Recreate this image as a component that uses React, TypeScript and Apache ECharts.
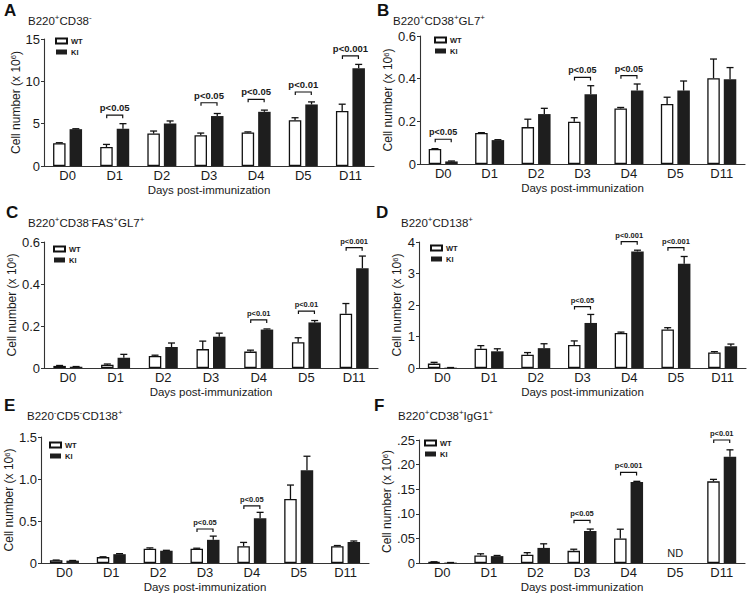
import React, { useEffect, useRef } from 'react';
import * as echarts from 'echarts';

// ---------- DATA ----------
const categories = ['D0', 'D1', 'D2', 'D3', 'D4', 'D5', 'D11'];
const seriesNames = ['WT', 'KI'];

// Panel A: B220+CD38-
const aWT = [2.7, 2.25, 3.83, 3.64, 3.95, 5.4, 6.5];
const aWTErr = [0.05, 0.3, 0.3, 0.25, 0.08, 0.3, 0.8];
const aKI = [4.35, 4.4, 5.02, 5.9, 6.4, 7.27, 11.55];
const aKIErr = [0.05, 0.6, 0.3, 0.3, 0.2, 0.3, 0.45];
const aSigCats = [1, 3, 4, 5, 6];
const aSigVals = [6.0, 7.47, 7.87, 8.74, 13.0];
const aSigLabels = ['p<0.05', 'p<0.05', 'p<0.05', 'p<0.01', 'p<0.001'];

// Panel B: B220+CD38+GL7+
const bWT = [0.07, 0.145, 0.173, 0.198, 0.26, 0.281, 0.402];
const bWTErr = [0.002, 0.002, 0.037, 0.019, 0.005, 0.032, 0.09];
const bKI = [0.012, 0.112, 0.234, 0.327, 0.345, 0.344, 0.397];
const bKIErr = [0.002, 0.002, 0.027, 0.04, 0.03, 0.045, 0.055];
const bSigCats = [0, 3, 4];
const bSigVals = [0.116, 0.406, 0.414];
const bSigLabels = ['p<0.05', 'p<0.05', 'p<0.05'];

// Panel C: B220+CD38-FAS+GL7+
const cWT = [0.01, 0.016, 0.057, 0.09, 0.078, 0.123, 0.258];
const cWTErr = [0.002, 0.003, 0.004, 0.038, 0.007, 0.021, 0.049];
const cKI = [0.006, 0.049, 0.1, 0.149, 0.183, 0.217, 0.475];
const cKIErr = [0.001, 0.016, 0.019, 0.017, 0.003, 0.009, 0.058];
const cSigCats = [4, 5, 6];
const cSigVals = [0.229, 0.271, 0.573];
const cSigLabels = ['p<0.01', 'p<0.01', 'p<0.001'];

// Panel D: B220+CD138+
const dWT = [0.14, 0.61, 0.42, 0.73, 1.11, 1.22, 0.49];
const dWTErr = [0.04, 0.1, 0.07, 0.13, 0.03, 0.06, 0.03];
const dKI = [0.01, 0.53, 0.63, 1.43, 3.7, 3.31, 0.69];
const dKIErr = [0.005, 0.08, 0.14, 0.27, 0.04, 0.23, 0.07];
const dSigCats = [3, 4, 5];
const dSigVals = [1.95, 4.01, 3.82];
const dSigLabels = ['p<0.05', 'p<0.001', 'p<0.001'];

// Panel E: B220-CD5-CD138+
const eWT = [0.032, 0.07, 0.17, 0.17, 0.2, 0.762, 0.2];
const eWTErr = [0.003, 0.004, 0.01, 0.006, 0.045, 0.166, 0.008];
const eKI = [0.028, 0.105, 0.146, 0.276, 0.533, 1.105, 0.25];
const eKIErr = [0.002, 0.006, 0.005, 0.044, 0.07, 0.166, 0.012];
const eSigCats = [3, 4];
const eSigVals = [0.405, 0.68];
const eSigLabels = ['p<0.05', 'p<0.05'];

// Panel F: B220+CD38+IgG1+
const fWT = [0.002, 0.0153, 0.0167, 0.0247, 0.05, null, 0.166];
const fWTErr = [0.0005, 0.0034, 0.0043, 0.0033, 0.0187, null, 0.004];
const fKI = [0.0008, 0.014, 0.0307, 0.065, 0.1647, null, 0.216];
const fKIErr = [0.0002, 0.0013, 0.0083, 0.004, 0.0013, null, 0.014];
const fSigCats = [3, 4, 6];
const fSigVals = [0.0867, 0.184, 0.25];
const fSigLabels = ['p<0.05', 'p<0.001', 'p<0.01'];
const fNoteCats = [5];
const fNoteVals = [0.02];
const fNoteLabels = ['ND'];

// Axis ranges
const yMaxes = [15, 0.6, 0.6, 4, 1.5, 0.25];
const yIntervals = [5, 0.2, 0.2, 1, 0.5, 0.05];

const panelLetters = ['A', 'B', 'C', 'D', 'E', 'F'];
const panelTitles = [
  '{n|B220}{s|+}{n|CD38}{s|-}',
  '{n|B220}{s|+}{n|CD38}{s|+}{n|GL7}{s|+}',
  '{n|B220}{s|+}{n|CD38}{s|-}{n|FAS}{s|+}{n|GL7}{s|+}',
  '{n|B220}{s|+}{n|CD138}{s|+}',
  '{n|B220}{s|-}{n|CD5}{s|-}{n|CD138}{s|+}',
  '{n|B220}{s|+}{n|CD38}{s|+}{n|IgG1}{s|+}',
];

const panels = [
  { wt: aWT, wtErr: aWTErr, ki: aKI, kiErr: aKIErr, sigCats: aSigCats, sigVals: aSigVals, sigLabels: aSigLabels },
  { wt: bWT, wtErr: bWTErr, ki: bKI, kiErr: bKIErr, sigCats: bSigCats, sigVals: bSigVals, sigLabels: bSigLabels },
  { wt: cWT, wtErr: cWTErr, ki: cKI, kiErr: cKIErr, sigCats: cSigCats, sigVals: cSigVals, sigLabels: cSigLabels },
  { wt: dWT, wtErr: dWTErr, ki: dKI, kiErr: dKIErr, sigCats: dSigCats, sigVals: dSigVals, sigLabels: dSigLabels },
  { wt: eWT, wtErr: eWTErr, ki: eKI, kiErr: eKIErr, sigCats: eSigCats, sigVals: eSigVals, sigLabels: eSigLabels },
  { wt: fWT, wtErr: fWTErr, ki: fKI, kiErr: fKIErr, sigCats: fSigCats, sigVals: fSigVals, sigLabels: fSigLabels },
];

// ---------- LAYOUT / STYLE ----------
const FONT = '"Liberation Sans", Arial, Helvetica, sans-serif';
const INK = '#1a1a1a';
const layouts = [
  { grid: { left: 44, top: 39, width: 330, height: 127 }, yGap: 19, letter: [4, 2], title: [28, 13], legend: [55, 37], sigFont: 9.5 },
  { grid: { left: 420, top: 36, width: 325, height: 128 }, yGap: 17, letter: [377, 2], title: [393, 13], legend: [434, 36], sigFont: 9 },
  { grid: { left: 44, top: 242, width: 334, height: 126 }, yGap: 14, letter: [6, 204], title: [28, 215], legend: [53, 245], sigFont: 7.5 },
  { grid: { left: 419, top: 242, width: 327, height: 126 }, yGap: 16, letter: [376, 204], title: [401, 215], legend: [430, 244], sigFont: 7.5 },
  { grid: { left: 41, top: 437, width: 328, height: 126 }, yGap: 15, letter: [4, 397], title: [27, 408], legend: [49, 441], sigFont: 7.5 },
  { grid: { left: 419, top: 440, width: 326, height: 123 }, yGap: 18, letter: [374, 397], title: [398, 408], legend: [424, 439], sigFont: 7.5 },
];
const BAR_OFFSET = 8.25;

function yFormatter(panelIdx: number) {
  return (v: number) => {
    if (v === 0) return '0';
    if (panelIdx === 0 || panelIdx === 3) return String(Math.round(v));
    if (panelIdx === 5) return v.toFixed(2).replace(/^0/, '');
    return v.toFixed(1);
  };
}

function errRenderer(offset: number) {
  return (_params: any, api: any) => {
    const c = api.value(0);
    const v = api.value(1);
    const e = api.value(2);
    const p0 = api.coord([c, v]);
    const p1 = api.coord([c, v + e]);
    const x = p0[0] + offset;
    const st = { stroke: '#111', lineWidth: 1.3 };
    return {
      type: 'group',
      children: [
        { type: 'line', shape: { x1: x, y1: p0[1], x2: x, y2: p1[1] }, style: st },
        { type: 'line', shape: { x1: x - 3.5, y1: p1[1], x2: x + 3.5, y2: p1[1] }, style: st },
      ],
    };
  };
}

function sigRenderer(labels: string[], fontSize: number) {
  return (params: any, api: any) => {
    const c = api.value(0);
    const y = api.value(1);
    const p = api.coord([c, y]);
    return {
      type: 'group',
      children: [
        {
          type: 'polyline',
          shape: { points: [[p[0] - 8, p[1] + 3], [p[0] - 8, p[1]], [p[0] + 8, p[1]], [p[0] + 8, p[1] + 3]] },
          style: { stroke: '#111', lineWidth: 1.2, fill: null },
        },
        {
          type: 'text',
          x: p[0],
          y: p[1] - 2.5,
          style: {
            text: labels[params.dataIndex],
            align: 'center',
            verticalAlign: 'bottom',
            fontSize,
            fontWeight: 'bold',
            fontFamily: FONT,
            fill: INK,
          },
        },
      ],
    };
  };
}

function noteRenderer(labels: string[]) {
  return (params: any, api: any) => {
    const p = api.coord([api.value(0), api.value(1)]);
    return {
      type: 'text',
      x: p[0],
      y: p[1],
      style: { text: labels[params.dataIndex], align: 'center', verticalAlign: 'middle', fontSize: 11, fontFamily: FONT, fill: INK },
    };
  };
}

function buildOption() {
  const grid: any[] = [];
  const xAxis: any[] = [];
  const yAxis: any[] = [];
  const series: any[] = [];
  const title: any[] = [];
  const legend: any[] = [];

  panels.forEach((p, i) => {
    const L = layouts[i];
    grid.push({ ...L.grid, containLabel: false });
    xAxis.push({
      type: 'category',
      gridIndex: i,
      data: categories,
      name: 'Days post-immunization',
      nameLocation: 'middle',
      nameGap: 18,
      nameTextStyle: { fontSize: 11.5, color: INK, fontFamily: FONT },
      axisLine: { lineStyle: { color: '#333', width: 1.1 } },
      axisTick: { alignWithLabel: true, length: 3, lineStyle: { color: '#333' } },
      axisLabel: { fontSize: 13, margin: 3, color: INK, fontFamily: FONT },
    });
    yAxis.push({
      type: 'value',
      gridIndex: i,
      min: 0,
      max: yMaxes[i],
      interval: yIntervals[i],
      name: 'Cell number (x 10{sup|6})',
      nameLocation: 'middle',
      nameGap: L.yGap,
      nameRotate: 90,
      nameTextStyle: {
        fontSize: 12,
        color: INK,
        fontFamily: FONT,
        rich: { sup: { fontSize: 7.5, verticalAlign: 'top', color: INK, fontFamily: FONT } },
      },
      axisLine: { show: true, lineStyle: { color: '#333', width: 1.1 } },
      axisTick: { show: true, length: 3, lineStyle: { color: '#333' } },
      splitLine: { show: false },
      axisLabel: { fontSize: 13, margin: 4, color: INK, fontFamily: FONT, formatter: yFormatter(i) },
    });

    series.push({
      type: 'bar',
      name: seriesNames[0],
      xAxisIndex: i,
      yAxisIndex: i,
      data: p.wt,
      barWidth: 12.5,
      barGap: '32%',
      itemStyle: { color: '#ffffff', borderColor: '#111', borderWidth: 1.3 },
      z: 2,
    });
    series.push({
      type: 'bar',
      name: seriesNames[1],
      xAxisIndex: i,
      yAxisIndex: i,
      data: p.ki,
      barWidth: 12.5,
      barGap: '32%',
      itemStyle: { color: '#1e1e1e' },
      z: 2,
    });
    const wtErrData: any[] = [];
    const kiErrData: any[] = [];
    p.wt.forEach((v, k) => {
      if (v != null && p.wtErr[k] != null) wtErrData.push([k, v, p.wtErr[k]]);
    });
    p.ki.forEach((v, k) => {
      if (v != null && p.kiErr[k] != null) kiErrData.push([k, v, p.kiErr[k]]);
    });
    series.push({
      type: 'custom',
      xAxisIndex: i,
      yAxisIndex: i,
      data: wtErrData,
      renderItem: errRenderer(-BAR_OFFSET),
      z: 3,
      silent: true,
    });
    series.push({
      type: 'custom',
      xAxisIndex: i,
      yAxisIndex: i,
      data: kiErrData,
      renderItem: errRenderer(BAR_OFFSET),
      z: 3,
      silent: true,
    });
    series.push({
      type: 'custom',
      xAxisIndex: i,
      yAxisIndex: i,
      data: p.sigCats.map((c, k) => [c, p.sigVals[k]]),
      renderItem: sigRenderer(p.sigLabels, L.sigFont),
      z: 4,
      silent: true,
    });
    if (i === 5) {
      series.push({
        type: 'custom',
        xAxisIndex: i,
        yAxisIndex: i,
        data: fNoteCats.map((c, k) => [c, fNoteVals[k]]),
        renderItem: noteRenderer(fNoteLabels),
        z: 4,
        silent: true,
      });
    }

    title.push({
      text: panelLetters[i],
      left: L.letter[0],
      top: L.letter[1],
      padding: 0,
      textStyle: { fontSize: 17, fontWeight: 'bold', color: '#111', fontFamily: FONT },
    });
    title.push({
      text: panelTitles[i],
      left: L.title[0],
      top: L.title[1],
      padding: 0,
      textStyle: {
        fontSize: 11,
        fontWeight: 'normal',
        color: INK,
        fontFamily: FONT,
        rich: {
          n: { fontSize: 11.5, color: INK, fontFamily: FONT, lineHeight: 14, verticalAlign: 'bottom' },
          s: { fontSize: 8, color: INK, fontFamily: FONT, lineHeight: 14, verticalAlign: 'top' },
        },
      },
    });
    legend.push({
      data: seriesNames,
      orient: 'vertical',
      left: L.legend[0],
      top: L.legend[1],
      padding: 0,
      itemWidth: 11,
      itemHeight: 5,
      itemGap: 3,
      icon: 'rect',
      selectedMode: false,
      textStyle: { fontSize: 7.5, fontWeight: 'bold', color: INK, fontFamily: FONT, padding: [0, 0, 0, -1] },
    });
  });

  return {
    animation: false,
    backgroundColor: '#ffffff',
    textStyle: { fontFamily: FONT },
    title,
    legend,
    grid,
    xAxis,
    yAxis,
    series,
  };
}

export default function App() {
  const ref = useRef<HTMLDivElement>(null);
  useEffect(() => {
    if (!ref.current) return;
    const chart = echarts.init(ref.current, undefined, { renderer: 'svg' });
    chart.setOption(buildOption() as any);
    return () => chart.dispose();
  }, []);
  return <div ref={ref} style={{ position: 'absolute', left: 0, top: 0, width: 748, height: 597 }} />;
}
